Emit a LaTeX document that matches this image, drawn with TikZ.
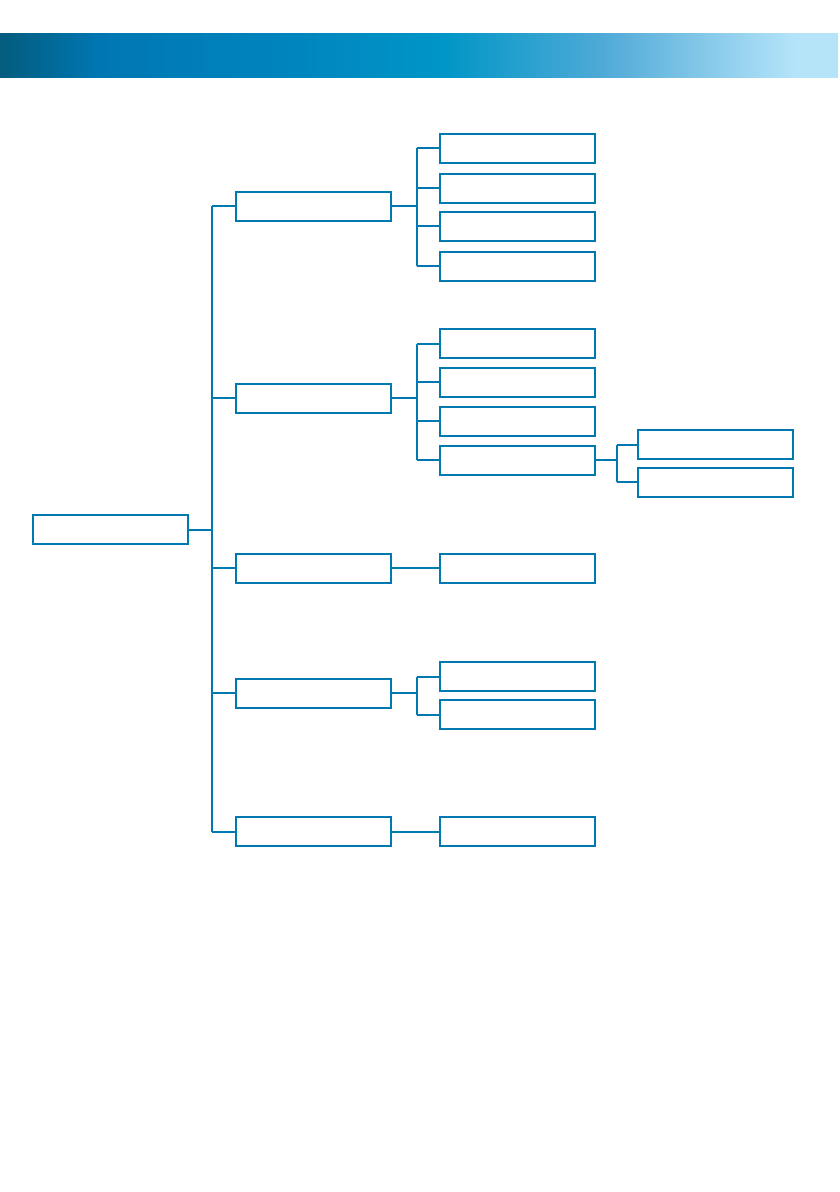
\documentclass[tikz,border=0pt]{standalone}
\usetikzlibrary{calc}
\definecolor{lineblue}{RGB}{0,120,176}
\definecolor{g0}{RGB}{4,92,126}
\definecolor{g1}{RGB}{0,119,179}
\definecolor{g2}{RGB}{0,133,190}
\definecolor{g3}{RGB}{0,150,199}
\definecolor{g4}{RGB}{80,170,215}
\definecolor{g5}{RGB}{181,228,249}
\pgfdeclarehorizontalshading{hdr}{100bp}{color(0bp)=(g0); color(25bp)=(g0); color(31bp)=(g1); color(42.5bp)=(g2); color(51.5bp)=(g3); color(61bp)=(g4); color(72.5bp)=(g5); color(100bp)=(g5)}
\tikzset{
  box/.style={draw=lineblue, line width=2pt, fill=white, minimum width=155pt, minimum height=29pt, inner sep=0pt},
  conn/.style={draw=lineblue, line width=2pt}
}
\begin{document}
\begin{tikzpicture}[x=1pt,y=-1pt]
\useasboundingbox (0,0) rectangle (840,1192);
\fill[white] (0,0) rectangle (840,1192);
\shade[shading=hdr] (0,33.5) rectangle (838,77);
% coordinates for branch lines
\coordinate (tx) at (212,0);
\coordinate (bx) at (417,0);
\coordinate (cx) at (617,0);
% root
\node[box] (root) at (110,529.7) {};
% level 1
\node[box] (a1) at (313.5,206.2) {};
\node[box] (a2) at (313.5,398.3) {};
\node[box] (a3) at (313.5,568.2) {};
\node[box] (a4) at (313.5,693.3) {};
\node[box] (a5) at (313.5,831.7) {};
% level 2
\node[box] (b11) at (517.5,148.2) {};
\node[box] (b12) at (517.5,188.2) {};
\node[box] (b13) at (517.5,226.2) {};
\node[box] (b14) at (517.5,266.2) {};
\node[box] (b21) at (517.5,343.8) {};
\node[box] (b22) at (517.5,382.3) {};
\node[box] (b23) at (517.5,421.3) {};
\node[box] (b24) at (517.5,460.2) {};
\node[box] (b31) at (517.5,568.2) {};
\node[box] (b41) at (517.5,676.8) {};
\node[box] (b42) at (517.5,714.8) {};
\node[box] (b51) at (517.5,831.7) {};
% level 3
\node[box] (c1) at (715,444.7) {};
\node[box] (c2) at (715,482.2) {};
% root to trunk
\draw[conn] (root.east) -- (root.east -| tx);
\draw[conn] (a1.west -| tx) -- (a5.west -| tx);
\foreach \n in {a1,a2,a3,a4,a5} \draw[conn] (\n.west -| tx) -- (\n.west);
% group 1
\draw[conn] (a1.east) -- (a1.east -| bx);
\draw[conn] (b11.west -| bx) -- (b14.west -| bx);
\foreach \n in {b11,b12,b13,b14} \draw[conn] (\n.west -| bx) -- (\n.west);
% group 2
\draw[conn] (a2.east) -- (a2.east -| bx);
\draw[conn] (b21.west -| bx) -- (b24.west -| bx);
\foreach \n in {b21,b22,b23,b24} \draw[conn] (\n.west -| bx) -- (\n.west);
% group 3
\draw[conn] (a3.east) -- (b31.west);
% group 4
\draw[conn] (a4.east) -- (a4.east -| bx);
\draw[conn] (b41.west -| bx) -- (b42.west -| bx);
\foreach \n in {b41,b42} \draw[conn] (\n.west -| bx) -- (\n.west);
% group 5
\draw[conn] (a5.east) -- (b51.west);
% level 3
\draw[conn] (b24.east) -- (b24.east -| cx);
\draw[conn] (c1.west -| cx) -- (c2.west -| cx);
\foreach \n in {c1,c2} \draw[conn] (\n.west -| cx) -- (\n.west);
\end{tikzpicture}
\end{document}
